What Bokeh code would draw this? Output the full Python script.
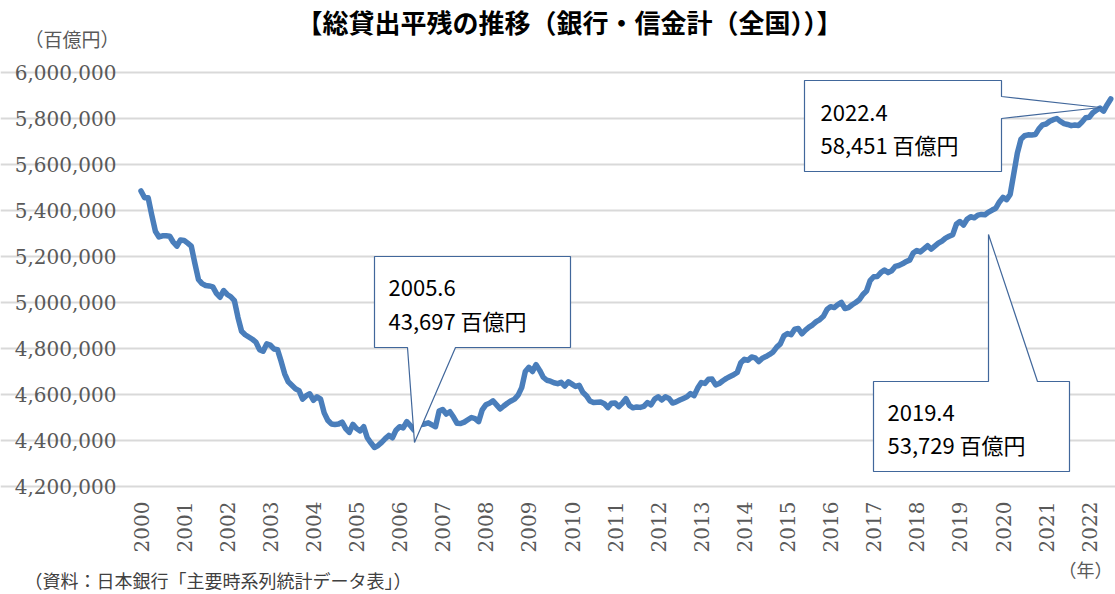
import math
from bokeh.plotting import figure
from bokeh.models import Range1d, FixedTicker, NumeralTickFormatter, Label, PolyAnnotation
from bokeh.embed import file_html
from bokeh.resources import INLINE

# ---------------- data (monthly, Jan..Dec) ----------------
YEARS = list(range(2000, 2023))
YEAR_LABELS = [str(y) for y in YEARS]

V2000 = [5485000, 5455000, 5455000, 5380000, 5310000, 5285000, 5290000, 5290000, 5288000, 5262000, 5245000, 5272000]
V2001 = [5270000, 5258000, 5245000, 5170000, 5100000, 5082000, 5074000, 5072000, 5068000, 5040000, 5023000, 5052000]
V2002 = [5035000, 5025000, 5008000, 4935000, 4875000, 4860000, 4850000, 4840000, 4828000, 4795000, 4788000, 4820000]
V2003 = [4815000, 4798000, 4795000, 4745000, 4690000, 4655000, 4640000, 4625000, 4617000, 4580000, 4595000, 4603000]
V2004 = [4575000, 4590000, 4580000, 4520000, 4488000, 4472000, 4470000, 4472000, 4480000, 4452000, 4435000, 4470000]
V2005 = [4452000, 4442000, 4460000, 4412000, 4390000, 4369700, 4378000, 4392000, 4408000, 4422000, 4412000, 4445000]
V2006 = [4460000, 4455000, 4482000, 4465000, 4445000, 4462000, 4470000, 4472000, 4477000, 4468000, 4460000, 4528000]
V2007 = [4535000, 4515000, 4525000, 4502000, 4475000, 4474000, 4480000, 4490000, 4500000, 4495000, 4482000, 4533000]
V2008 = [4555000, 4562000, 4572000, 4555000, 4537000, 4550000, 4562000, 4572000, 4580000, 4597000, 4630000, 4700000]
V2009 = [4718000, 4700000, 4730000, 4705000, 4675000, 4662000, 4658000, 4651000, 4647000, 4653000, 4637000, 4655000]
V2010 = [4645000, 4635000, 4640000, 4610000, 4595000, 4572000, 4565000, 4566000, 4567000, 4560000, 4543000, 4562000]
V2011 = [4563000, 4547000, 4562000, 4582000, 4552000, 4542000, 4546000, 4544000, 4548000, 4565000, 4555000, 4580000]
V2012 = [4590000, 4576000, 4590000, 4583000, 4563000, 4568000, 4576000, 4583000, 4590000, 4604000, 4595000, 4628000]
V2013 = [4652000, 4648000, 4666000, 4667000, 4642000, 4648000, 4660000, 4670000, 4678000, 4686000, 4696000, 4738000]
V2014 = [4753000, 4749000, 4763000, 4759000, 4743000, 4758000, 4765000, 4774000, 4785000, 4806000, 4820000, 4855000]
V2015 = [4865000, 4860000, 4884000, 4887000, 4864000, 4880000, 4893000, 4903000, 4917000, 4926000, 4940000, 4970000]
V2016 = [4982000, 4978000, 4991000, 5000000, 4974000, 4978000, 4990000, 5000000, 5012000, 5035000, 5050000, 5095000]
V2017 = [5112000, 5113000, 5130000, 5141000, 5130000, 5138000, 5157000, 5161000, 5168000, 5178000, 5184000, 5215000]
V2018 = [5226000, 5220000, 5233000, 5247000, 5232000, 5245000, 5258000, 5267000, 5280000, 5288000, 5295000, 5340000]
V2019 = [5352000, 5337000, 5362000, 5372900, 5368000, 5380000, 5383000, 5382000, 5393000, 5402000, 5410000, 5437000]
V2020 = [5457000, 5447000, 5470000, 5560000, 5650000, 5710000, 5725000, 5729000, 5728000, 5730000, 5755000, 5772000]
V2021 = [5776000, 5788000, 5795000, 5800000, 5787000, 5778000, 5774000, 5769000, 5772000, 5770000, 5785000, 5803000]
V2022 = [5805000, 5825000, 5836000, 5845100, 5832000, 5860000, 5885000]

SERIES = [V2000, V2001, V2002, V2003, V2004, V2005, V2006, V2007, V2008, V2009, V2010, V2011,
          V2012, V2013, V2014, V2015, V2016, V2017, V2018, V2019, V2020, V2021, V2022]

Y_TICKS = [4200000, 4400000, 4600000, 4800000, 5000000, 5200000, 5400000, 5600000, 5800000, 6000000]

TITLE = "【総貸出平残の推移（銀行・信金計（全国））】"
UNIT_LABEL = "（百億円）"
X_UNIT_LABEL = "（年）"
SOURCE = "（資料：日本銀行「主要時系列統計データ表」）"
CALLOUTS = [("2005.6", "43,697 百億円"), ("2019.4", "53,729 百億円"), ("2022.4", "58,451 百億円")]

# ---------------- build x (decimal year per month) ----------------
xs, ys = [], []
for year, vals in zip(YEARS, SERIES):
    for i, v in enumerate(vals):
        xs.append(year + i / 12.0)
        ys.append(v)

# ---------------- figure (frame = whole canvas; axes pinned inside) ----------------
W, H = 1115, 594
PX_PER_YEAR = 43.1
X0_PX = 140.5                      # page px of the first month
PX_PER_Y = 46.0 / 200000.0
Y_BASE_PX = 486.0                  # page px of 4,200,000
x_start = 2000 - X0_PX / PX_PER_YEAR
x_end = 2000 + (W - X0_PX) / PX_PER_YEAR
y_top = Y_TICKS[0] + Y_BASE_PX / PX_PER_Y
y_bottom = Y_TICKS[0] - (H - Y_BASE_PX) / PX_PER_Y
plot_left = 2000 - (X0_PX - 138) / PX_PER_YEAR

p = figure(width=W, height=H, output_backend="svg", toolbar_location=None,
           x_range=Range1d(x_start, x_end), y_range=Range1d(y_bottom, y_top),
           min_border=0, min_border_left=0, min_border_right=0, min_border_top=0, min_border_bottom=0)
p.title.visible = False
p.outline_line_color = None
p.background_fill_color = "white"
p.border_fill_color = "white"

p.xgrid.visible = False
p.ygrid.grid_line_color = "#D9D9D9"
p.ygrid.grid_line_width = 2
p.ygrid.bounds = (plot_left, x_end)

p.yaxis.ticker = FixedTicker(ticks=Y_TICKS)
p.yaxis.formatter = NumeralTickFormatter(format="0,0")
p.yaxis.fixed_location = plot_left
p.xaxis.ticker = FixedTicker(ticks=YEARS)
p.xaxis.major_label_overrides = {y: lab for y, lab in zip(YEARS, YEAR_LABELS)}
p.xaxis.major_label_orientation = math.pi / 2
p.xaxis.fixed_location = Y_TICKS[0]

for ax in (p.xaxis[0], p.yaxis[0]):
    ax.axis_line_color = None
    ax.major_tick_line_color = None
    ax.minor_tick_line_color = None
    ax.major_tick_in = 0
    ax.major_tick_out = 0
    ax.major_label_text_font = "DejaVu Serif"
    ax.major_label_text_font_size = "20px"
    ax.major_label_text_color = "#595959"
p.xaxis.major_label_standoff = 15
p.yaxis.major_label_standoff = 22

p.line(xs, ys, line_color="#4A7EBB", line_width=5.5, line_join="round", line_cap="round")

# ---------------- annotations (screen px relative to frame = canvas) ----------------
def sx(px):
    return px


def sy(py):
    return H - py


BOX_LINE = "#41679B"
shapes = [
    [(374, 256), (570, 256), (570, 347), (455, 347), (414, 442), (407, 347), (374, 347)],
    [(873, 381), (988, 381), (988, 234), (1037, 381), (1069, 381), (1069, 471), (873, 471)],
    [(804, 80), (1001, 80), (1001, 96), (1100, 107), (1001, 118), (1001, 171), (804, 171)],
]
for pts in shapes:
    p.add_layout(PolyAnnotation(xs=[sx(a) for a, b in pts], ys=[sy(b) for a, b in pts],
                                xs_units="screen", ys_units="screen",
                                fill_color="white", fill_alpha=1.0,
                                line_color=BOX_LINE, line_alpha=1.0, line_width=1.2))

text_pos = [((388, 287), (388, 319)), ((887, 412), (887, 443)), ((820, 112), (820, 143))]
for (l1, l2), ((x1, y1), (x2, y2)) in zip(CALLOUTS, text_pos):
    for t, (tx, ty) in ((l1, (x1, y1)), (l2, (x2, y2))):
        p.add_layout(Label(x=sx(tx), y=sy(ty), x_units="screen", y_units="screen", text=t,
                           text_font="Noto Sans CJK JP", text_font_size="22px",
                           text_color="black", text_align="left", text_baseline="middle"))

p.add_layout(Label(x=sx(569), y=sy(21), x_units="screen", y_units="screen", text=TITLE,
                   text_font="Noto Sans CJK JP", text_font_size="26px", text_font_style="bold",
                   text_color="black", text_align="center", text_baseline="middle"))
p.add_layout(Label(x=sx(24), y=sy(38), x_units="screen", y_units="screen", text=UNIT_LABEL,
                   text_font="Noto Sans CJK JP", text_font_size="19px",
                   text_color="#595959", text_align="left", text_baseline="middle"))
p.add_layout(Label(x=sx(1112), y=sy(568), x_units="screen", y_units="screen", text=X_UNIT_LABEL,
                   text_font="Noto Sans CJK JP", text_font_size="18px",
                   text_color="#595959", text_align="right", text_baseline="middle"))
p.add_layout(Label(x=sx(24), y=sy(579), x_units="screen", y_units="screen", text=SOURCE,
                   text_font="Noto Sans CJK JP", text_font_size="18px",
                   text_color="#404040", text_align="left", text_baseline="middle"))

open("out.html", "w").write(file_html(p, INLINE))
